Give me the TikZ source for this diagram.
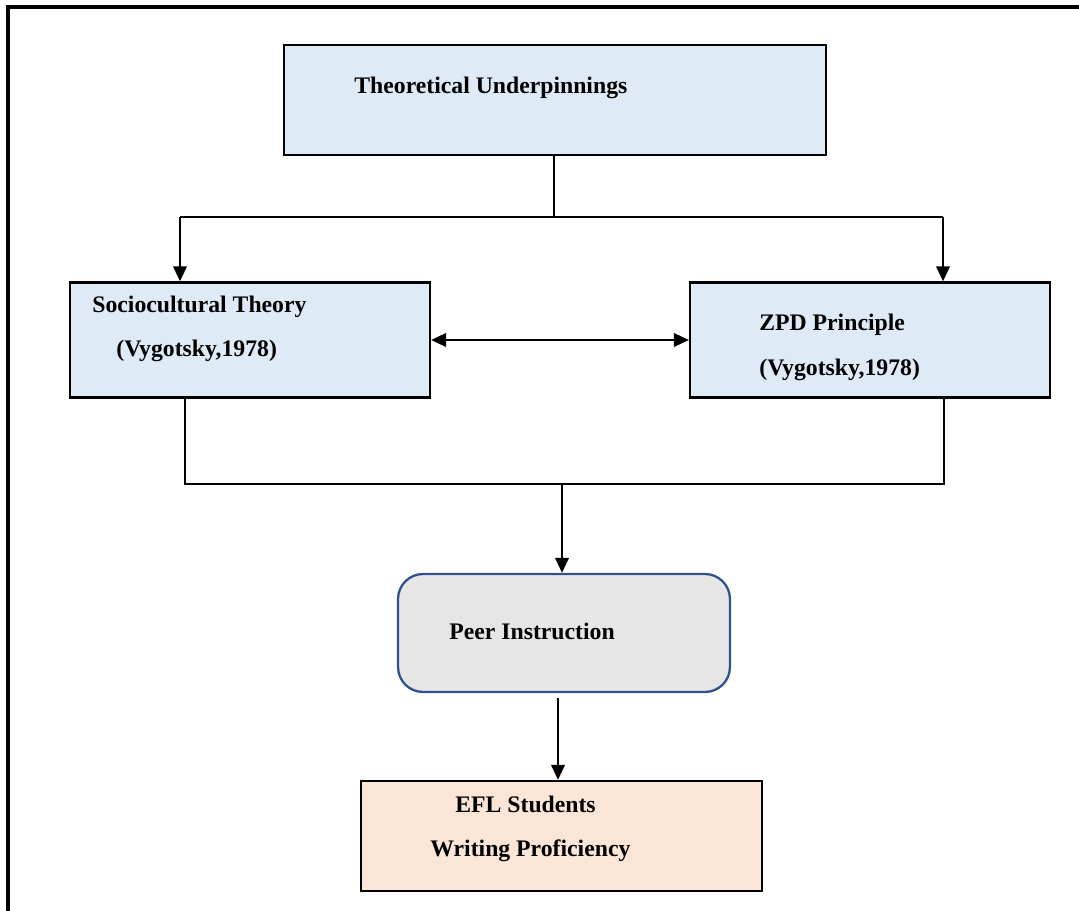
\documentclass[tikz,border=0pt]{standalone}
\usepackage{fontspec}
\setmainfont{Liberation Serif}
\usepackage{tikz}
\usetikzlibrary{arrows.meta}
\usetikzlibrary{calc}
\usetikzlibrary{positioning}

\definecolor{boxblue}{HTML}{DEEAF6}
\definecolor{boxgrey}{HTML}{E6E6E6}
\definecolor{boxpeach}{HTML}{FBE5D6}
\definecolor{edgeblue}{HTML}{2F528F}

\begin{document}
\begin{tikzpicture}
[
	x = 0.02cm, y = -0.02cm,
	box/.style	= {rectangle, draw = black, line width = 1.3pt, inner sep = 0cm},
	theorybox/.style = {box, fill = boxblue, minimum width = 10.84cm, minimum height = 2.2cm},
	sidebox/.style = {box, fill = boxblue, minimum width = 7.2cm, minimum height = 2.3cm},
	peerbox/.style = {box, draw = edgeblue, fill = boxgrey, rounded corners = 0.5cm, minimum width = 6.64cm, minimum height = 2.36cm},
	eflbox/.style = {box, fill = boxpeach, minimum width = 8.02cm, minimum height = 2.2cm},
	label/.style = {anchor = base west, inner sep = 0cm, font = \bfseries\fontsize{13.5}{16}\selectfont},
	link/.style = {line width = 1.2pt},
	arrow/.style = {link, -{Triangle[length = 0.3cm, width = 0.27cm]}},
	twoway/.style = {link, {Triangle[length = 0.3cm, width = 0.27cm]}-{Triangle[length = 0.3cm, width = 0.27cm]}},
]
	\useasboundingbox (0,0) rectangle (1079,911);

	% frame
	\draw [line width = 2.8pt] (8,911) -- (8,7) -- (1079,7);

	% boxes
	\node (theory) [theorybox] at (555,100) {};
	\node (socio) [sidebox] at (250,340) {};
	\node (zpd) [sidebox] at (870,340) {};
	\node (peer) [peerbox] at (564,633) {};
	\node (efl) [eflbox] at (561.5,836) {};

	% texts
	\node (theoryT) [label] at (354,94) {Theoretical Underpinnings};
	\node (socioT1) [label] at (92,313) {Sociocultural Theory};
	\node (socioT2) [label] at (116,357) {(Vygotsky,1978)};
	\node (zpdT1) [label] at (759,331) {ZPD Principle};
	\node (zpdT2) [label] at (759,376) {(Vygotsky,1978)};
	\node (peerT) [label] at (449,640) {Peer Instruction};
	\node (eflT1) [label] at (455,813) {EFL Students};
	\node (eflT2) [label] at (430,857) {Writing Proficiency};

	% split
	\coordinate (split) at (554,217);
	\coordinate (splitL) at (180,217);
	\coordinate (splitR) at (943,217);
	\draw [link] (theory.south -| split) -- (split);
	\draw [link] (splitL) -- (splitR);
	\draw [arrow] (splitL) -- (splitL |- socio.north);
	\draw [arrow] (splitR) -- (splitR |- zpd.north);
	%
	\draw [twoway] (socio.east) -- (zpd.west);

	% join
	\coordinate (joinL) at (185,484);
	\coordinate (joinR) at (944,484);
	\coordinate (joinM) at (562,484);
	\draw [link] (joinL |- socio.south) -- (joinL) -- (joinR) -- (joinR |- zpd.south);
	\draw [arrow] (joinM) -- (joinM |- peer.north);

	% outcome
	\coordinate (peerOut) at (558,698);
	\draw [arrow] (peerOut) -- (peerOut |- efl.north);

\end{tikzpicture}
\end{document}
